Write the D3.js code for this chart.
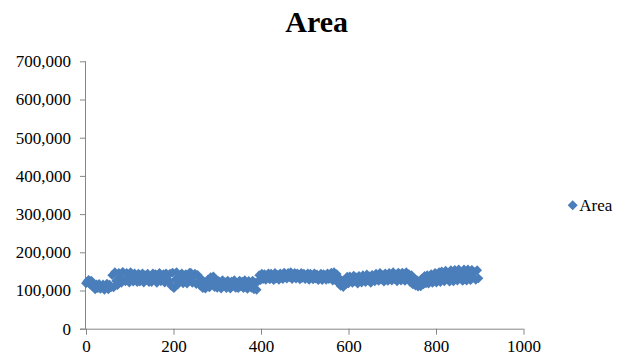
<!DOCTYPE html>
<html>
<head>
<meta charset="utf-8">
<script src="https://cdn.jsdelivr.net/npm/d3@7"></script>
<style>
  html, body { margin: 0; padding: 0; background: #fff; }
  svg { display: block; }
</style>
</head>
<body>
<svg id="chart" width="618" height="357"></svg>
<script>
// ---- data ----
const chartTitle = "Area";
const seriesName = "Area";
const xStep = 3;           // observation spacing along x
const xTicks = [0, 200, 400, 600, 800, 1000];
const yTicks = [0, 100000, 200000, 300000, 400000, 500000, 600000, 700000];
const areaValues = [
  119000,124000,128000,116000,126000,110000,117000,103000,116000,106000,
  117000,104000,111000,116000,102000,109000,118000,103000,115000,108000,
  140000,108000,148000,125000,114000,146000,135000,120000,149000,128000,
  124000,146000,135000,121000,148000,131000,123000,145000,138000,122000,
  144000,123000,134000,145000,121000,140000,128000,144000,122000,133000,
  122000,145000,131000,143000,120000,137000,146000,124000,134000,143000,
  121000,145000,130000,123000,144000,112000,147000,106000,128000,148000,
  116000,140000,126000,145000,119000,135000,143000,118000,129000,147000,
  146000,120000,136000,144000,117000,141000,124000,113000,130000,106000,
  122000,105000,116000,129000,108000,135000,120000,137000,109000,128000,
  107000,125000,116000,105000,127000,112000,122000,106000,126000,117000,
  105000,124000,114000,127000,107000,119000,106000,126000,111000,123000,
  106000,127000,115000,104000,125000,118000,107000,126000,103000,120000,
  102000,124000,140000,127000,144000,130000,143000,128000,138000,145000,
  129000,144000,136000,127000,146000,132000,141000,128000,145000,134000,
  130000,147000,138000,131000,146000,135000,148000,130000,141000,146000,
  131000,145000,137000,129000,146000,133000,144000,130000,140000,145000,
  128000,144000,135000,129000,145000,131000,142000,127000,138000,144000,
  127000,143000,134000,128000,145000,130000,140000,147000,126000,148000,
  127000,143000,120000,132000,112000,126000,109000,128000,116000,136000,
  119000,137000,128000,120000,139000,124000,134000,118000,138000,127000,
  121000,140000,130000,122000,142000,126000,137000,120000,141000,131000,
  124000,144000,133000,125000,146000,129000,140000,123000,145000,134000,
  125000,146000,135000,126000,148000,130000,142000,124000,147000,136000,
  126000,147000,136000,125000,148000,131000,143000,122000,140000,116000,
  132000,113000,128000,110000,122000,111000,132000,116000,138000,119000,
  140000,118000,131000,143000,120000,135000,146000,121000,129000,148000,
  122000,150000,137000,124000,152000,130000,145000,123000,153000,138000,
  124000,154000,139000,126000,155000,132000,147000,125000,155000,140000,
  126000,155000,141000,127000,154000,134000,148000,128000,153000,132000
];
const points = areaValues.map((v, i) => ({ x: i * xStep, y: v }));

// ---- layout ----
const svg = d3.select("#chart");
const plot = { left: 86, right: 523.5, top: 61.3, bottom: 328.7 };
const color = "#4a7ebb";
const axisColor = "#868686";
const font = "'Liberation Serif', 'Times New Roman', serif";

const x = d3.scaleLinear().domain([0, 1000]).range([plot.left, plot.right]);
const y = d3.scaleLinear().domain([0, 700000]).range([plot.bottom, plot.top]);

// title
svg.append("text")
  .attr("x", 316.7).attr("y", 32.3)
  .attr("text-anchor", "middle")
  .attr("font-family", font).attr("font-weight", "bold").attr("font-size", 30)
  .attr("fill", "#000")
  .text(chartTitle);

// y axis
const yAxis = svg.append("g")
  .attr("transform", `translate(${plot.left},0)`)
  .call(d3.axisLeft(y).tickValues(yTicks).tickSize(6).tickPadding(9)
        .tickFormat(d3.format(",")));
// x axis
const xAxis = svg.append("g")
  .attr("transform", `translate(0,${plot.bottom})`)
  .call(d3.axisBottom(x).tickValues(xTicks).tickSize(6).tickPadding(5)
        .tickFormat(d3.format("d")));

[yAxis, xAxis].forEach(g => {
  g.attr("font-family", font).attr("font-size", 17);
  g.select(".domain").attr("stroke", axisColor).attr("stroke-width", 1);
  g.selectAll(".tick line").attr("stroke", axisColor).attr("stroke-width", 1);
  g.selectAll(".tick text").attr("font-family", font).attr("font-size", 17).attr("fill", "#000");
});
xAxis.select(".domain").attr("d", `M${plot.left - 6},0.5H${plot.right}`);
yAxis.select(".domain").attr("d", `M-0.5,${plot.top}V${plot.bottom}`);

// markers
const r = 4.9;
const diamond = `M0,${-r}L${r},0L0,${r}L${-r},0Z`;
svg.append("g")
  .selectAll("path")
  .data(points)
  .join("path")
  .attr("d", diamond)
  .attr("transform", d => `translate(${x(d.x)},${y(d.y)})`)
  .attr("fill", color);

// legend
const lg = svg.append("g").attr("transform", "translate(572.7,205.3)");
lg.append("path").attr("d", `M0,-5L5,0L0,5L-5,0Z`).attr("fill", color);
lg.append("text")
  .attr("x", 6.6).attr("y", 5.8)
  .attr("font-family", font).attr("font-size", 17).attr("fill", "#000")
  .text(seriesName);
</script>
</body>
</html>
